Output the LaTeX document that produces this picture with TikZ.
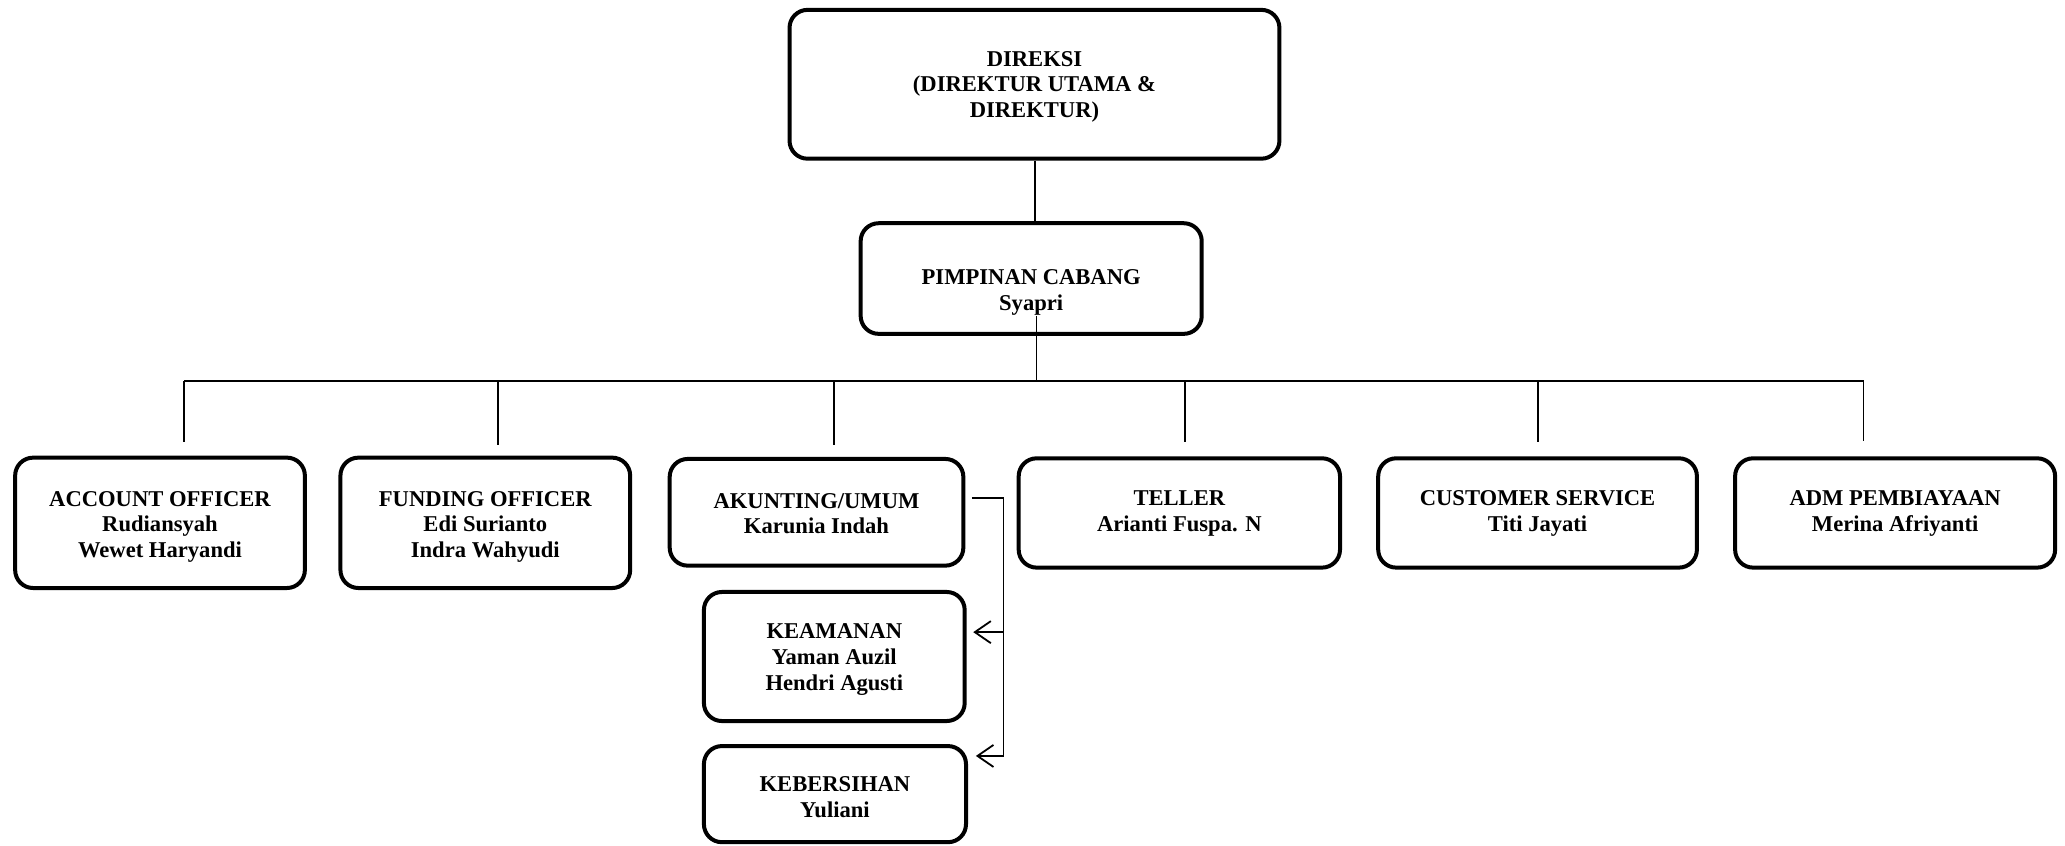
\documentclass[tikz,border=0pt]{standalone}
\usepackage{fontspec}
\setmainfont{Liberation Serif}
\usetikzlibrary{arrows.meta}
\begin{document}
\begin{tikzpicture}[x=0.6585pt,y=-0.6585pt,
  orgbox/.style 2 args={draw=black, line width=2pt, rounded corners=9pt, inner sep=0pt,
     minimum width=#1*0.6585pt, minimum height=#2*0.6585pt},
  lbl/.style={inner sep=0pt, align=center, font=\fontsize{11.3pt}{12.9pt}\selectfont\bfseries},
  conn/.style={line width=0.9pt},
  arr/.style={line width=0.9pt, -{Straight Barb[length=8pt,width=11pt]}}]
\useasboundingbox (0,0) rectangle (1568,642);

% boxes
\node[orgbox={372}{113}] (dir) at (785.5,64) {};
\node[lbl] (dirt) at (785.5,66) {DIREKSI\\(DIREKTUR UTAMA \&\\DIREKTUR)};
\node[orgbox={259}{84}] (pim) at (783,211.5) {};
\node[lbl] (pimt) at (783,222) {PIMPINAN CABANG\\Syapri};

\node[orgbox={220}{99}] (acc) at (121.5,397) {};
\node[lbl] (acct) at (121.5,400) {ACCOUNT OFFICER\\Rudiansyah\\Wewet Haryandi};
\node[orgbox={220}{99}] (fund) at (368.5,397) {};
\node[lbl] (fundt) at (368.5,400) {FUNDING OFFICER\\Edi Surianto\\Indra Wahyudi};
\node[orgbox={223}{81}] (aku) at (620,389) {};
\node[lbl] (akut) at (620,390) {AKUNTING/UMUM\\Karunia Indah};
\node[orgbox={244}{83}] (tel) at (895.5,389.5) {};
\node[lbl] (telt) at (895.5,390) {TELLER\\Arianti Fuspa. N};
\node[orgbox={242}{83}] (cs) at (1167.5,389.5) {};
\node[lbl] (cst) at (1167.5,390) {CUSTOMER SERVICE\\Titi Jayati};
\node[orgbox={243}{83}] (adm) at (1439,389.5) {};
\node[lbl] (admt) at (1439,390) {ADM PEMBIAYAAN\\Merina Afriyanti};
\node[orgbox={198}{98}] (kea) at (633.5,498.5) {};
\node[lbl] (keat) at (633.5,501) {KEAMANAN\\Yaman Auzil\\Hendri Agusti};
\node[orgbox={199}{73}] (keb) at (634,603) {};
\node[lbl] (kebt) at (634,605) {KEBERSIHAN\\Yuliani};

% top connectors
\coordinate (dtop) at (786,122);
\draw[conn] (dir.south -| dtop) -- (pim.north -| dtop);

\coordinate (pstem) at (787,240);
\coordinate (busl) at (140,289);
\coordinate (busr) at (1415,289);
\draw[conn] (pstem) -- (pstem |- busl);
\draw[conn] (busl) -- (busr);

\coordinate (v1) at (140,336);
\coordinate (v2) at (378,338);
\coordinate (v3) at (633,338);
\coordinate (v4) at (900,336);
\coordinate (v5) at (1168,336);
\coordinate (v6) at (1415,335);
\foreach \v in {v1,v2,v3,v4,v5,v6} {
  \draw[conn] (\v |- busl) -- (\v);
}

% akunting to keamanan / kebersihan
\coordinate (ak1) at (738,378);
\coordinate (ak2) at (762,378);
\coordinate (ak3) at (762,574);
\draw[conn] (ak1) -- (ak2) -- (ak3);
\coordinate (ka) at (762,480);
\coordinate (kaend) at (739,480);
\coordinate (kbend) at (741,574);
\draw[arr] (ka) -- (kaend);
\draw[arr] (ak3) -- (kbend);
\end{tikzpicture}
\end{document}
